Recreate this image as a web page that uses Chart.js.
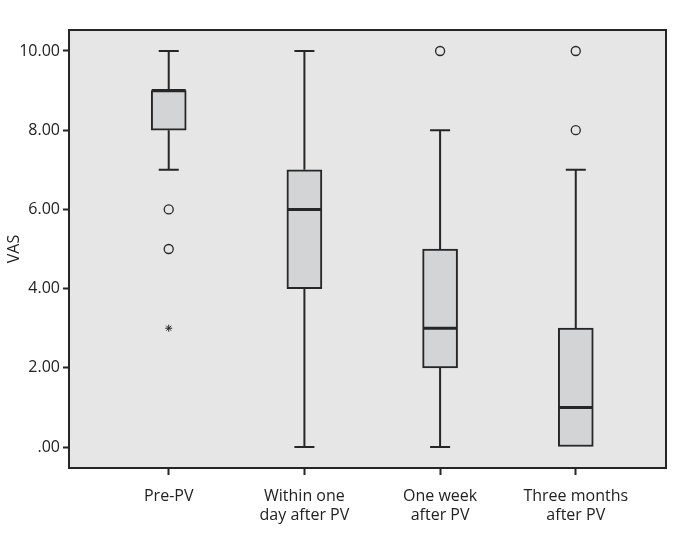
<!DOCTYPE html>
<html>
<head>
<meta charset="utf-8">
<script src="https://cdn.jsdelivr.net/npm/chart.js@4.4.1/dist/chart.umd.min.js"></script>
<style>
  html, body { margin:0; padding:0; background:#fff; }
  #wrap { width:689px; height:544px; position:relative; }
</style>
</head>
<body>
<div id="wrap"><canvas id="c"></canvas></div>
<script>
// categories (x positions 0..3)
const categories = [['Pre-PV'], ['Within one', 'day after PV'], ['One week', 'after PV'], ['Three months', 'after PV']];
// box plot stats
const whiskerLow  = [7, 0, 0, 0];
const q1          = [8, 4, 2, 0];
const medians     = [9, 6, 3, 1];
const q3          = [9, 7, 5, 3];
const whiskerHigh = [10, 10, 8, 7];
// outliers (circles) and extremes (asterisks)
const outliers = [[6, 5], [], [10], [10, 8]];
const extremes = [[3], [], [], []];
const yTicks = [0, 2, 4, 6, 8, 10];

const INK = '#262626';
const FONT = "'Open Sans', 'Noto Sans', sans-serif";

const boxData = categories.map((c, i) => ({ x: i, y: [q1[i], q3[i]] }));
const outPts = [], extPts = [];
outliers.forEach((arr, i) => arr.forEach(v => outPts.push({ x: i, y: v })));
extremes.forEach((arr, i) => arr.forEach(v => extPts.push({ x: i, y: v })));

// plot background + frame, whiskers and medians
const boxPlugin = {
  id: 'boxPlugin',
  beforeDatasetsDraw(chart){
    const { ctx, chartArea: a, scales: { x, y } } = chart;
    ctx.save();
    ctx.fillStyle = '#e6e6e6';
    ctx.fillRect(a.left, a.top, a.right - a.left, a.bottom - a.top);
    ctx.strokeStyle = INK; ctx.lineWidth = 2;
    categories.forEach((c, i) => {
      const px = x.getPixelForValue(i);
      const whisker = (from, to) => {
        if (from === to) return;
        const py = y.getPixelForValue(to);
        ctx.beginPath();
        ctx.moveTo(px, y.getPixelForValue(from)); ctx.lineTo(px, py);
        ctx.moveTo(px - 10, py); ctx.lineTo(px + 10, py);
        ctx.stroke();
      };
      whisker(q3[i], whiskerHigh[i]);
      whisker(q1[i], whiskerLow[i]);
    });
    ctx.restore();
  },
  afterDatasetsDraw(chart){
    const { ctx, chartArea: a, scales: { x, y } } = chart;
    ctx.save();
    ctx.strokeStyle = INK; ctx.lineWidth = 3;
    categories.forEach((c, i) => {
      const px = x.getPixelForValue(i), py = y.getPixelForValue(medians[i]);
      ctx.beginPath(); ctx.moveTo(px - 17, py); ctx.lineTo(px + 17, py); ctx.stroke();
    });
    ctx.lineWidth = 2;
    ctx.strokeRect(a.left, a.top, a.right - a.left, a.bottom - a.top);
    ctx.restore();
  }
};

new Chart(document.getElementById('c'), {
  type: 'bar',
  data: {
    datasets: [
      { data: boxData, backgroundColor: '#d3d4d6', borderColor: INK, borderWidth: 2, borderSkipped: false, barThickness: 35 },
      { type: 'scatter', data: outPts, pointStyle: 'circle', radius: 4.5, borderWidth: 1.3, borderColor: INK, backgroundColor: 'rgba(0,0,0,0)' },
      { type: 'scatter', data: extPts, pointStyle: 'star', radius: 3.5, borderWidth: 1, borderColor: INK, backgroundColor: 'rgba(0,0,0,0)' }
    ]
  },
  options: {
    responsive: true, maintainAspectRatio: false, animation: false,
    layout: { padding: { left: 0, right: 23, top: 30, bottom: 0 } },
    plugins: { legend: { display: false }, tooltip: { enabled: false } },
    scales: {
      x: {
        type: 'linear', min: -0.735, max: 3.665, offset: false,
        afterBuildTicks: s => { s.ticks = categories.map((c, i) => ({ value: i })); },
        afterFit: s => { s.height = 76; },
        grid: { offset: false, drawOnChartArea: false, tickLength: 7, tickColor: INK, tickWidth: 2 },
        border: { display: false },
        ticks: { color: '#222', font: { family: FONT, size: 16 }, padding: 12, maxRotation: 0, autoSkip: false,
          callback: v => categories[v] }
      },
      y: {
        min: -0.53, max: 10.53,
        afterBuildTicks: s => { s.ticks = yTicks.map(v => ({ value: v })); },
        afterFit: s => { s.width = 69; },
        grid: { drawOnChartArea: false, tickLength: 6, tickColor: INK, tickWidth: 2 },
        border: { display: false },
        ticks: { color: '#222', font: { family: FONT, size: 16 }, padding: 3,
          callback: v => v === 0 ? '.00' : v.toFixed(2) },
        title: { display: true, text: 'VAS', color: '#222', font: { family: FONT, size: 16 }, padding: { top: 5, bottom: 0 } }
      }
    }
  },
  plugins: [boxPlugin]
});
</script>
</body>
</html>
